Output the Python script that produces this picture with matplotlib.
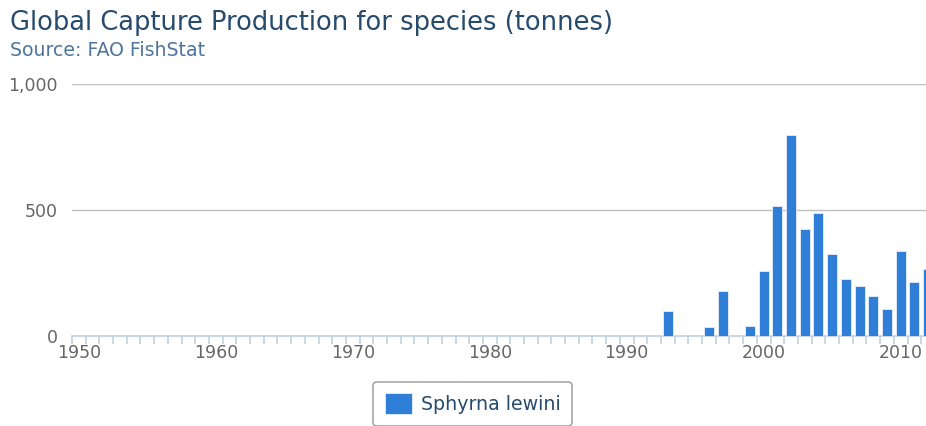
import matplotlib
matplotlib.use('Agg')
import matplotlib.pyplot as plt
from matplotlib.ticker import FixedLocator, FuncFormatter

years = list(range(1950, 2013))
# tonnes per year, years not listed are zero
reported = {
    1993: 100, 1996: 34, 1997: 180, 1999: 41, 2000: 258, 2001: 516,
    2002: 799, 2003: 425, 2004: 489, 2005: 325, 2006: 226, 2007: 200,
    2008: 160, 2009: 107, 2010: 337, 2011: 213, 2012: 265,
}
values = [reported.get(y, 0) for y in years]
species = 'Sphyrna lewini'

W, H = 926, 426
fig = plt.figure(figsize=(W / 100, H / 100), dpi=100)
ax = fig.add_axes([72 / W, 1 - 336 / H, 1 - 72 / W, 252 / H])

ax.bar(years, values, width=0.73, color='#2f7ed8', edgecolor='#e8eef8',
       linewidth=0.6, label=species, zorder=3)

ax.set_ylim(0, 1000)
ax.set_xlim(1949.5, 2011.85)

# grid
for v in [500, 1000]:
    ax.axhline(v, color='#c0c0c0', linewidth=1, zorder=1)

for s in ['top', 'right', 'left']:
    ax.spines[s].set_visible(False)
ax.spines['bottom'].set_color('#c0d0e0')
ax.spines['bottom'].set_linewidth(1.2)

ax.set_yticks([0, 500, 1000])
ax.yaxis.set_major_formatter(FuncFormatter(lambda v, p: f'{int(v):,}'))
ax.tick_params(axis='y', length=0, pad=10, labelsize=12.5, labelcolor='#666666')

ax.set_xticks(list(range(1950, 2020, 10)))
ax.xaxis.set_minor_locator(FixedLocator([y - 0.5 for y in years] + [2012.5]))
ax.tick_params(axis='x', which='major', length=0, pad=6, labelsize=12.5,
               labelcolor='#666666')
ax.tick_params(axis='x', which='minor', length=5.5, width=1.2, color='#c0d0e0',
               direction='out')

fig.text(10 / W, 1 - 23 / H, 'Global Capture Production for species (tonnes)',
         fontsize=18.5, color='#274b6d', va='center', ha='left')
fig.text(10 / W, 1 - 51 / H, 'Source: FAO FishStat',
         fontsize=13.6, color='#4d759e', va='center', ha='left')

leg = fig.legend(loc='upper center', bbox_to_anchor=(472.5 / W, 1 - 382 / H),
                 frameon=True, fancybox=True, edgecolor='#909090',
                 fontsize=13.7, handlelength=1.45, handleheight=1.3,
                 borderpad=0.6, handletextpad=0.45, borderaxespad=0)
for t in leg.get_texts():
    t.set_color('#274b6d')
leg.get_frame().set_linewidth(1.2)

fig.savefig('out.png', dpi=100)
